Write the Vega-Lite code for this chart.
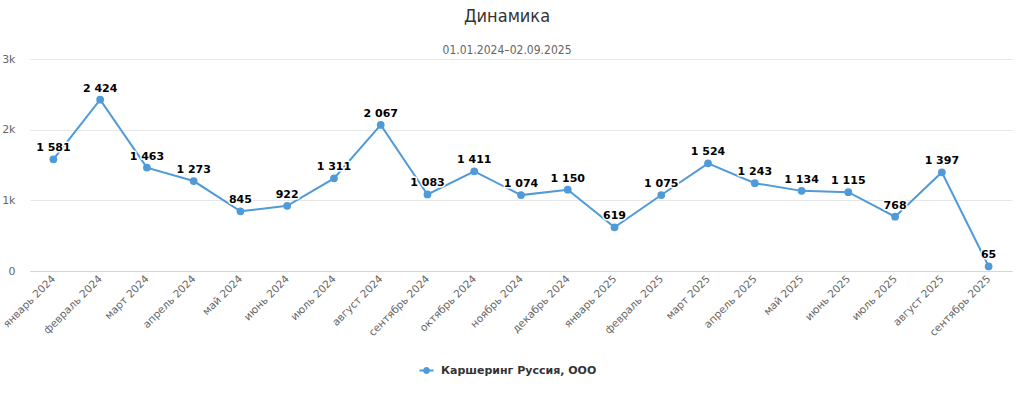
{
  "$schema": "https://vega.github.io/schema/vega-lite/v6.json",
  "autosize": "none",
  "width": 982,
  "height": 212,
  "padding": {"left": 30, "top": 59, "right": 10, "bottom": 127},
  "background": "#ffffff",
  "title": {
    "text": "Динамика",
    "subtitle": "01.01.2024–02.09.2025",
    "anchor": "middle",
    "dx": -14,
    "offset": -3,
    "font": "DejaVu Sans Condensed, Liberation Sans Narrow, DejaVu Sans",
    "fontSize": 18,
    "fontWeight": "normal",
    "color": "#333333",
    "subtitleFont": "DejaVu Sans Condensed, Liberation Sans Narrow, DejaVu Sans",
    "subtitleFontSize": 12,
    "subtitleColor": "#666666",
    "subtitlePadding": 19
  },
  "config": {
    "view": {"stroke": null},
    "locale": {"number": {"decimal": ",", "thousands": " ", "grouping": [3], "currency": ["", ""]}},
    "font": "DejaVu Sans"
  },
  "data": {
    "values": [
      {"month": "январь 2024", "value": 1581, "series": "Каршеринг Руссия, ООО"},
      {"month": "февраль 2024", "value": 2424, "series": "Каршеринг Руссия, ООО"},
      {"month": "март 2024", "value": 1463, "series": "Каршеринг Руссия, ООО"},
      {"month": "апрель 2024", "value": 1273, "series": "Каршеринг Руссия, ООО"},
      {"month": "май 2024", "value": 845, "series": "Каршеринг Руссия, ООО"},
      {"month": "июнь 2024", "value": 922, "series": "Каршеринг Руссия, ООО"},
      {"month": "июль 2024", "value": 1311, "series": "Каршеринг Руссия, ООО"},
      {"month": "август 2024", "value": 2067, "series": "Каршеринг Руссия, ООО"},
      {"month": "сентябрь 2024", "value": 1083, "series": "Каршеринг Руссия, ООО"},
      {"month": "октябрь 2024", "value": 1411, "series": "Каршеринг Руссия, ООО"},
      {"month": "ноябрь 2024", "value": 1074, "series": "Каршеринг Руссия, ООО"},
      {"month": "декабрь 2024", "value": 1150, "series": "Каршеринг Руссия, ООО"},
      {"month": "январь 2025", "value": 619, "series": "Каршеринг Руссия, ООО"},
      {"month": "февраль 2025", "value": 1075, "series": "Каршеринг Руссия, ООО"},
      {"month": "март 2025", "value": 1524, "series": "Каршеринг Руссия, ООО"},
      {"month": "апрель 2025", "value": 1243, "series": "Каршеринг Руссия, ООО"},
      {"month": "май 2025", "value": 1134, "series": "Каршеринг Руссия, ООО"},
      {"month": "июнь 2025", "value": 1115, "series": "Каршеринг Руссия, ООО"},
      {"month": "июль 2025", "value": 768, "series": "Каршеринг Руссия, ООО"},
      {"month": "август 2025", "value": 1397, "series": "Каршеринг Руссия, ООО"},
      {"month": "сентябрь 2025", "value": 65, "series": "Каршеринг Руссия, ООО"}
    ]
  },
  "encoding": {
    "x": {
      "field": "month",
      "type": "ordinal",
      "sort": null,
      "scale": {"paddingInner": 0, "paddingOuter": 0.5},
      "axis": {
        "title": null,
        "labelAngle": -45,
        "labelAlign": "right",
        "labelBaseline": "middle",
        "labelPadding": 6,
        "labelFontSize": 10.5,
        "labelColor": "#666666",
        "labelFont": "DejaVu Sans",
        "ticks": false,
        "domainColor": "#ccd6eb",
        "grid": false,
        "labelOverlap": false
      }
    },
    "y": {
      "field": "value",
      "type": "quantitative",
      "scale": {"domain": [0, 3000], "nice": false},
      "axis": {
        "title": null,
        "values": [0, 1000, 2000, 3000],
        "labelExpr": "datum.value == 0 ? '0' : (datum.value / 1000) + 'k'",
        "labelFontSize": 11,
        "labelColor": "#666666",
        "labelFont": "DejaVu Sans",
        "labelPadding": 15,
        "ticks": false,
        "domain": false,
        "gridColor": "#e6e6e6"
      }
    }
  },
  "layer": [
    {
      "mark": {"type": "line", "strokeWidth": 2, "color": "#4f9ad8"},
      "encoding": {
        "color": {
          "field": "series",
          "type": "nominal",
          "scale": {"range": ["#4f9ad8"]},
          "legend": {
            "title": null,
            "orient": "none",
            "legendX": 388,
            "legendY": 303,
            "symbolType": "M-1,0L1,0M-0.35,0A0.35,0.35 0 1,0 0.35,0A0.35,0.35 0 1,0 -0.35,0Z",
            "symbolSize": 200,
            "symbolStrokeWidth": 2,
            "symbolFillColor": "#4f9ad8",
            "symbolStrokeColor": "#4f9ad8",
            "labelFont": "DejaVu Sans",
            "labelFontSize": 11,
            "labelFontWeight": "bold",
            "labelColor": "#333333",
            "labelOffset": 6,
            "labelLimit": 400
          }
        }
      }
    },
    {
      "mark": {"type": "point", "filled": true, "size": 60, "color": "#4f9ad8", "opacity": 1}
    },
    {
      "mark": {"type": "text", "dy": -11, "fontSize": 11, "fontWeight": "bold", "stroke": "#ffffff", "strokeWidth": 3, "strokeJoin": "round", "color": "#ffffff"},
      "encoding": {"text": {"field": "value", "type": "quantitative", "format": ",d"}}
    },
    {
      "mark": {"type": "text", "dy": -11, "fontSize": 11, "fontWeight": "bold", "color": "#000000"},
      "encoding": {"text": {"field": "value", "type": "quantitative", "format": ",d"}}
    }
  ]
}
